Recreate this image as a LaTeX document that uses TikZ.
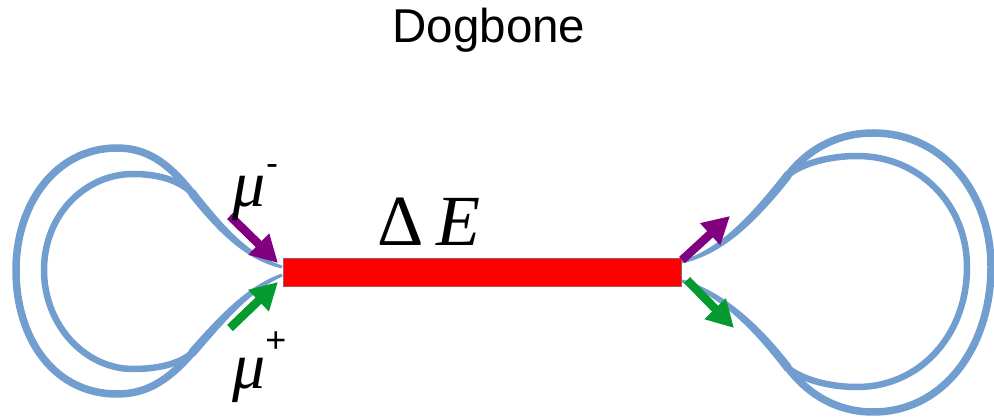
\documentclass[tikz,border=0pt]{standalone}
\usepackage{fontspec}
\setmainfont{Liberation Serif}
\newfontfamily\titlefont{Liberation Sans}
\usetikzlibrary{arrows.meta}
\definecolor{beamblue}{HTML}{729ECF}
\definecolor{muminus}{HTML}{800080}
\definecolor{muplus}{HTML}{069A2E}
\tikzset{
    outerring/.style={draw=beamblue,line width=7.5pt},
    innerring/.style={draw=beamblue,line width=6.5pt},
    stem/.style={fill=beamblue,draw=beamblue,line width=3pt,line join=round},
    absorber/.style={draw=gray!70!red,fill=red,line width=.6pt,minimum width=398pt,minimum height=28pt,inner sep=0pt},
    muon/.style={-{Triangle[length=27pt,width=28pt]},line width=8.5pt},
    mulabel/.style={font=\fontsize{66}{68}\selectfont\itshape,inner sep=0pt},
    charge/.style={font=\titlefont\fontsize{36}{38}\selectfont,inner sep=0pt},
}

\begin{document}
\begin{tikzpicture}[x=1pt,y=-1pt]
    \useasboundingbox (0,0) rectangle (994,419);

    \node[font=\titlefont\fontsize{47.5}{50}\selectfont,inner sep=0pt] (title) at (489,30) {Dogbone};

    % ring junctions
    \coordinate (lup) at (192,193);
    \coordinate (llo) at (192,353);
    \coordinate (rup) at (788,175);
    \coordinate (rlo) at (788,368);
    % corners of the stems at the junctions
    \coordinate (lua) at (194,191);
    \coordinate (lub) at (190,195);
    \coordinate (lla) at (194,355);
    \coordinate (llb) at (190,351);
    \coordinate (rua) at (786,173);
    \coordinate (rub) at (790,177);
    \coordinate (rla) at (786,370);
    \coordinate (rlb) at (790,366);
    % stem tips at the absorber
    \coordinate (ltu) at (282,267);
    \coordinate (ltl) at (282,275);
    \coordinate (rtu) at (682,262);
    \coordinate (rtl) at (682,281);

    % left ring
    \draw[outerring] (lup) .. controls (167,161) and (145,148) .. (117,148)
        .. controls (55,148) and (16,205) .. (16,270)
        .. controls (16,340) and (55,394) .. (117,394)
        .. controls (145,394) and (167,382) .. (llo);
    \draw[innerring] (lup) .. controls (178,179) and (155,174) .. (133,174)
        .. controls (85,174) and (44,215) .. (44,270)
        .. controls (44,325) and (85,369) .. (133,369)
        .. controls (155,369) and (178,365) .. (llo);
    \filldraw[stem] (ltu) .. controls (251,257) and (227,233.5) .. (lua) -- (lub)
        .. controls (223,236.5) and (249,259) .. (ltu);
    \filldraw[stem] (ltl) .. controls (251,289) and (227,316.5) .. (lla) -- (llb)
        .. controls (223,313.5) and (249,287) .. (ltl);

    % right ring
    \draw[outerring] (rup) .. controls (810,147) and (840,133) .. (873,133)
        .. controls (945,133) and (991,195) .. (991,267)
        .. controls (991,345) and (945,412) .. (873,412)
        .. controls (840,412) and (810,397) .. (rlo);
    \draw[innerring] (rup) .. controls (803,163) and (830,156) .. (857,156)
        .. controls (920,156) and (967,205) .. (967,267)
        .. controls (967,335) and (920,387) .. (857,387)
        .. controls (830,387) and (803,380) .. (rlo);
    \filldraw[stem] (rtu) .. controls (714,252) and (743,228.5) .. (rua) -- (rub)
        .. controls (747,231.5) and (716,254) .. (rtu);
    \filldraw[stem] (rtl) .. controls (719,294) and (753,326.5) .. (rla) -- (rlb)
        .. controls (757,323.5) and (721,292) .. (rtl);

    \node[absorber] (abs) at (482,272) {};
    \node[font=\fontsize{72}{74}\selectfont,inner sep=0pt] (de) at (429,222) {Δ\,\textit{E}};

    % muons
    \coordinate (a1) at (230,216);
    \coordinate (a2) at (278,263);
    \coordinate (b1) at (230,328);
    \coordinate (b2) at (278,282);
    \coordinate (c1) at (682,260);
    \coordinate (c2) at (730,216);
    \coordinate (d1) at (687,280);
    \coordinate (d2) at (734,328);
    \draw[muon,muminus] (a1) -- (a2);
    \draw[muon,muplus] (b1) -- (b2);
    \draw[muon,muminus] (c1) -- (c2);
    \draw[muon,muplus] (d1) -- (d2);

    \node[mulabel] (mum) at (249,198) {μ};
    \node[charge] (minus) at (272,170) {-};
    \node[mulabel] (mup) at (249,380) {μ};
    \node[charge] (plus) at (276,342) {+};
\end{tikzpicture}
\end{document}
